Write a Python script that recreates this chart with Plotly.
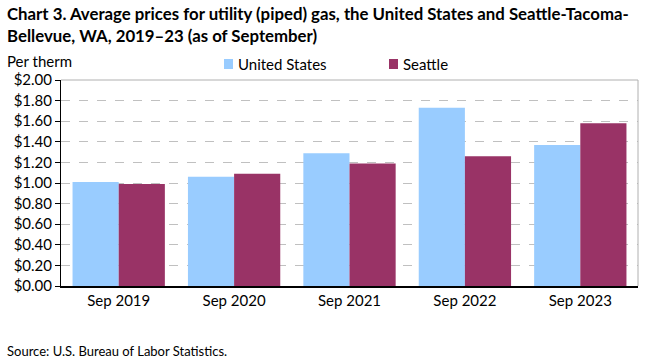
import plotly.graph_objects as go

categories = ["Sep 2019", "Sep 2020", "Sep 2021", "Sep 2022", "Sep 2023"]
us_values = [1.01, 1.06, 1.29, 1.73, 1.37]
seattle_values = [0.99, 1.09, 1.19, 1.26, 1.58]
tick_vals = [0.0, 0.2, 0.4, 0.6, 0.8, 1.0, 1.2, 1.4, 1.6, 1.8, 2.0]
tick_text = ["$%.2f" % v for v in tick_vals]
series_names = ["United States", "Seattle"]
series_colors = ["#99ccff", "#993366"]

FONT = "Lato"
L, R, T, B = 61, 638, 80, 286
PW, PH = R - L, B - T


def px(xp):
    return (xp - L) / PW


def py(yp):
    return (B - yp) / PH


fig = go.Figure()
fig.add_trace(go.Bar(name=series_names[0], x=categories, y=us_values,
                     marker=dict(color=series_colors[0], line=dict(width=0))))
fig.add_trace(go.Bar(name=series_names[1], x=categories, y=seattle_values,
                     marker=dict(color=series_colors[1], line=dict(width=0))))

fig.update_layout(
    width=661, height=361,
    barmode="group", bargap=0.2, bargroupgap=0,
    plot_bgcolor="white", paper_bgcolor="white",
    margin=dict(l=L, r=661 - R, t=T, b=361 - B),
    font=dict(family=FONT, size=14, color="black"),
    showlegend=False,
)
fig.update_xaxes(showline=True, linecolor="black", linewidth=1.5, ticks="",
                 tickfont=dict(size=15), mirror=False)
fig.update_yaxes(range=[0, 2.0], tickvals=tick_vals, ticktext=tick_text,
                 showgrid=True, gridcolor="#c0c0c0", griddash="dash", gridwidth=1,
                 showline=True, linecolor="black", linewidth=1,
                 ticks="outside", ticklen=5, tickcolor="black",
                 tickfont=dict(size=15), zeroline=False)

# plot border (top and right) in gray
fig.add_shape(type="line", xref="paper", yref="paper", x0=0, x1=1, y0=1, y1=1,
              line=dict(color="#b0b0b0", width=1))
fig.add_shape(type="line", xref="paper", yref="paper", x0=1, x1=1, y0=0, y1=1,
              line=dict(color="#b0b0b0", width=1))

# manual legend
legend_sq_x = [224, 389]
for name, color, sx in zip(series_names, series_colors, legend_sq_x):
    fig.add_shape(type="rect", xref="paper", yref="paper",
                  x0=px(sx), x1=px(sx + 9), y0=py(69), y1=py(59),
                  line=dict(width=0), fillcolor=color)
    fig.add_annotation(text=name, xref="paper", yref="paper",
                       x=px(sx + 12), y=py(64), xanchor="left", yanchor="middle",
                       showarrow=False, font=dict(size=15, family=FONT))

fig.add_annotation(text="<b>Chart 3. Average prices for utility (piped) gas, the United States and Seattle-Tacoma-<br>Bellevue, WA, 2019–23 (as of September)</b>",
                   xref="paper", yref="paper", x=px(5), y=py(1), xanchor="left", yanchor="top",
                   showarrow=False, align="left", font=dict(size=16.8, family=FONT))
fig.add_annotation(text="Per therm", xref="paper", yref="paper",
                   x=px(5), y=py(61), xanchor="left", yanchor="middle",
                   showarrow=False, font=dict(size=15, family=FONT))
fig.add_annotation(text="Source: U.S. Bureau of Labor Statistics.", xref="paper", yref="paper",
                   x=px(5), y=py(351), xanchor="left", yanchor="middle",
                   showarrow=False, font=dict(size=13, family=FONT))

fig.write_html("out.html", config={"displayModeBar": False},
               post_script="document.body.style.margin='0';")
